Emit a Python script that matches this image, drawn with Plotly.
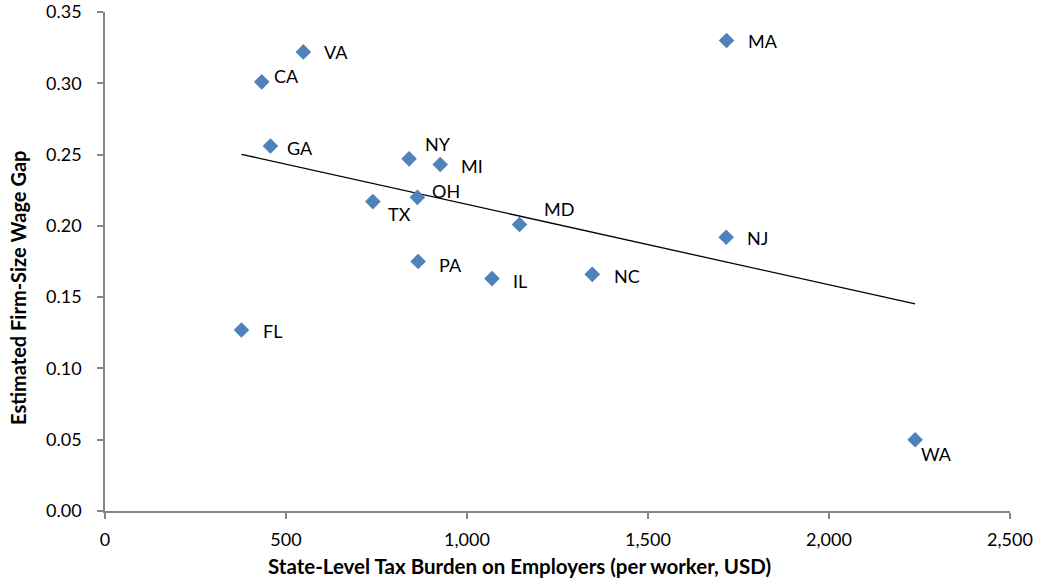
import numpy as np
import plotly.graph_objects as go

states = ["MA", "NJ", "WA", "VA", "CA", "GA", "NY", "MI", "OH", "TX", "MD", "PA", "IL", "NC", "FL"]
tax_burden = [1717, 1716, 2238, 548, 433, 457, 840, 926, 863, 740, 1145, 865, 1069, 1346, 377]
wage_gap = [0.330, 0.192, 0.050, 0.322, 0.301, 0.256, 0.247, 0.243, 0.220, 0.217, 0.201, 0.175, 0.163, 0.166, 0.127]

x_title = "State-Level Tax Burden on Employers (per worker, USD)"
y_title = "Estimated Firm-Size Wage Gap"

# label offsets in pixels (dx, dy screen-down positive)
label_dx = [19, 19, 4, 19, 10, 15, 14, 19, 13, 13, 23, 19, 19, 20, 20]
label_dy = [0, 1, 14, 0, -6, 2, -15, 1, -6, 12, -15, 3, 2, 2, 1]

FONT = "Lato, Liberation Sans, sans-serif"

x = np.array(tax_burden, dtype=float)
y = np.array(wage_gap, dtype=float)
slope, intercept = np.polyfit(x, y, 1)
xl = np.array([x.min(), x.max()])
yl = slope * xl + intercept

fig = go.Figure()
fig.add_trace(go.Scatter(
    x=xl, y=yl, mode="lines",
    line=dict(color="black", width=1.3),
    showlegend=False, hoverinfo="skip"))
fig.add_trace(go.Scatter(
    x=tax_burden, y=wage_gap, mode="markers",
    marker=dict(symbol="diamond", size=12, color="#4F81BD"),
    showlegend=False, text=states))

for s, xv, yv, dx, dy in zip(states, tax_burden, wage_gap, label_dx, label_dy):
    fig.add_annotation(x=xv, y=yv, text=s, showarrow=False,
                       xanchor="left", yanchor="middle",
                       xshift=dx, yshift=-dy,
                       font=dict(family=FONT, size=18, color="#000000"))

# axis titles, centred on the whole chart area as in the reference
fig.add_annotation(xref="paper", yref="paper", x=0.4575, y=-0.110,
                   text="<b>" + x_title + "</b>", showarrow=False,
                   xanchor="center", yanchor="middle",
                   font=dict(family=FONT, size=20.5, color="#000000"))
fig.add_annotation(xref="paper", yref="paper", x=-0.0961, y=0.447,
                   text="<b>" + y_title + "</b>", showarrow=False, textangle=-90,
                   xanchor="center", yanchor="middle",
                   font=dict(family=FONT, size=20, color="#000000"))

axis_common = dict(
    showgrid=False, zeroline=False, showline=True, automargin=False,
    linecolor="#868686", linewidth=1.5,
    ticks="outside", ticklen=6, tickcolor="#868686", tickwidth=1.5,
    tickfont=dict(family=FONT, size=18, color="#000000"),
)

fig.update_layout(
    width=1038, height=581,
    margin=dict(l=105, r=28, t=12, b=70),
    plot_bgcolor="white", paper_bgcolor="white",
    xaxis=dict(range=[0, 2500], dtick=500, tickformat=",", ticklabelstandoff=6,
               **axis_common),
    yaxis=dict(range=[0, 0.35], dtick=0.05, tickformat=".2f", ticklabelstandoff=12,
               **axis_common),
)

fig.write_html("out.html", config={"displayModeBar": False},
               post_script="document.body.style.margin='0';document.body.style.padding='0';")
